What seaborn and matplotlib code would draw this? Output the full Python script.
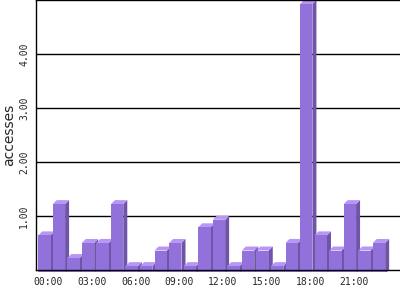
import matplotlib
matplotlib.use("Agg")
import matplotlib.pyplot as plt
from matplotlib.patches import Polygon, Rectangle
import pandas as pd
import seaborn as sns

hours = ["00:00", "01:00", "02:00", "03:00", "04:00", "05:00", "06:00", "07:00",
         "08:00", "09:00", "10:00", "11:00", "12:00", "13:00", "14:00", "15:00",
         "16:00", "17:00", "18:00", "19:00", "20:00", "21:00", "22:00", "23:00"]
accesses = [0.71, 1.29, 0.29, 0.57, 0.57, 1.29, 0.14, 0.14, 0.43, 0.57, 0.14, 0.86,
            1.00, 0.14, 0.43, 0.43, 0.14, 0.57, 5.00, 0.71, 0.43, 1.29, 0.43, 0.57]
xtick_labels = ["00:00", "03:00", "06:00", "09:00", "12:00", "15:00", "18:00", "21:00"]
ytick_values = [1, 2, 3, 4]
ytick_labels = ["1.00", "2.00", "3.00", "4.00"]

FRONT = "#9371DB"
TOP = "#B995F5"
SIDE = "#6E55A8"

sns.set_style("white")
plt.rcParams["font.family"] = ["DejaVu Sans"]

fig = plt.figure(figsize=(4, 3), dpi=100)
ax = fig.add_axes([0.09, 0.101, 0.91, 0.899])

df = pd.DataFrame({"hour": hours, "accesses": accesses})
sns.barplot(data=df, x="hour", y="accesses", color=FRONT, saturation=1,
            width=0.85, linewidth=0, edgecolor="none", ax=ax)

ax.set_xlim(-0.85, 24.17)
ax.set_ylim(0, 5.0)

# 3D depth in pixels converted to data units
ppx = ax.bbox.width / (24.17 + 0.85)
ppy = ax.bbox.height / 5.0
dx = 4.0 / ppx
dy = 4.0 / ppy

clip = Rectangle((0, -2.5 / ax.bbox.height), 1, 1 + 2.5 / ax.bbox.height,
                 transform=ax.transAxes, facecolor="none", edgecolor="none")

for i, p in enumerate(ax.patches[:len(accesses)]):
    x0, w, h = p.get_x(), p.get_width(), p.get_height()
    z = 2 + i * 0.01
    p.set_x(x0 - dx)
    p.set_y(-dy)
    p.set_height(h)
    p.set_zorder(z + 0.003)
    p.set_clip_path(clip)
    side = Polygon([(x0 + w - dx, -dy), (x0 + w - dx, h - dy), (x0 + w, h), (x0 + w, 0)],
                   closed=True, facecolor=SIDE, edgecolor="none", zorder=z + 0.001)
    top = Polygon([(x0 - dx, h - dy), (x0 + w - dx, h - dy), (x0 + w, h), (x0, h)],
                  closed=True, facecolor=TOP, edgecolor="none", zorder=z + 0.002)
    ax.add_patch(side)
    ax.add_patch(top)
    side.set_clip_path(clip)
    top.set_clip_path(clip)

ax.set_axisbelow(True)
ax.yaxis.grid(True, color="black", linewidth=1)
ax.xaxis.grid(False)
for s in ["left", "bottom", "top"]:
    ax.spines[s].set_visible(True)
    ax.spines[s].set_color("black")
    ax.spines[s].set_linewidth(1)
ax.spines["right"].set_visible(False)
ax.spines["bottom"].set_zorder(10)

ax.set_xticks(range(0, 24, 3))
ax.set_xticklabels(xtick_labels, fontfamily="DejaVu Sans Mono", fontsize=7)
ax.set_yticks(ytick_values)
ax.set_yticklabels(ytick_labels, fontfamily="DejaVu Sans Mono", fontsize=7,
                   rotation=90, va="center")
ax.tick_params(axis="both", length=0)
ax.tick_params(axis="x", pad=5)
ax.tick_params(axis="y", pad=5)
ax.set_xlabel("")
ax.set_ylabel("accesses", fontsize=10, labelpad=2)

fig.savefig("out.png", dpi=100)
